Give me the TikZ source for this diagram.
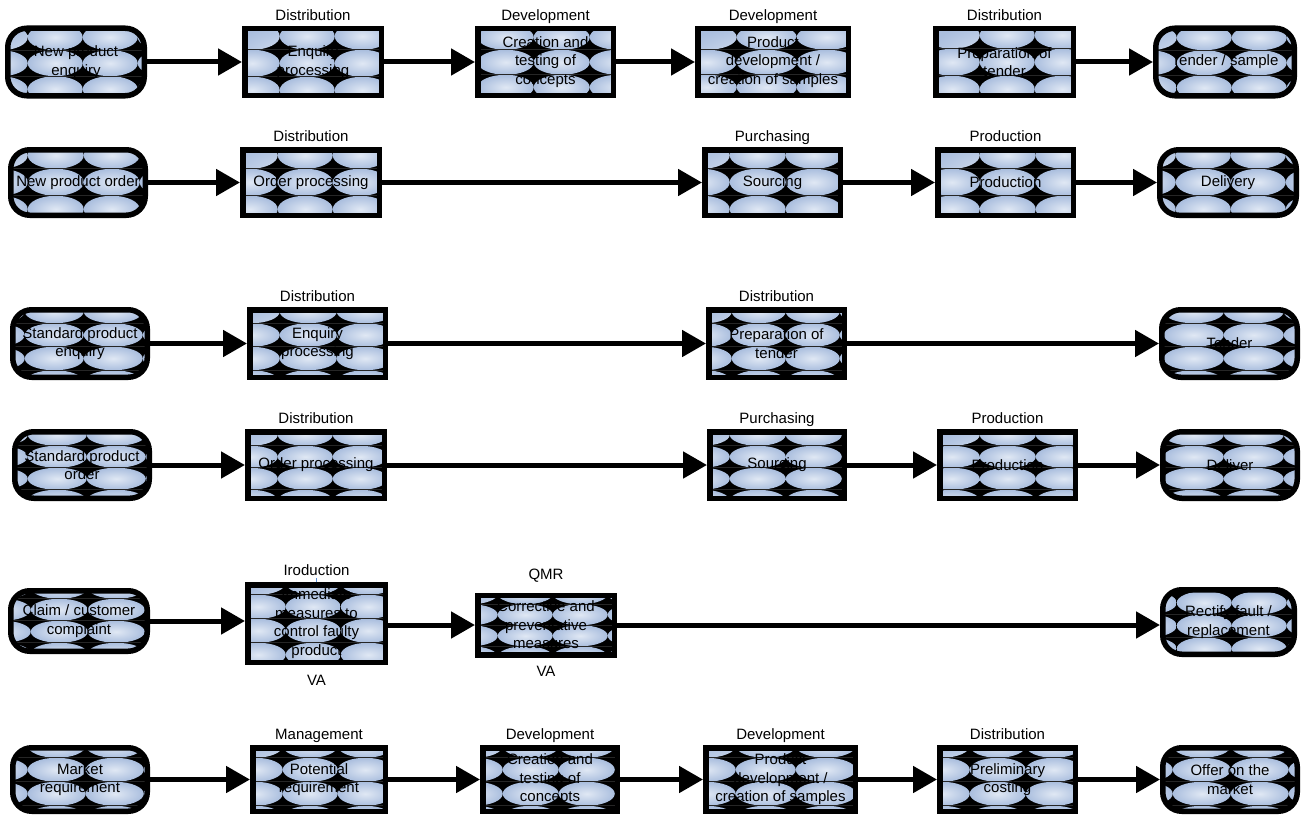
\documentclass[tikz,border=0pt]{standalone}
\usepackage{fontspec}
\setmainfont{Liberation Sans}
\usetikzlibrary{arrows.meta}

\definecolor{tileL}{HTML}{E0E8F4}
\definecolor{tileD}{HTML}{AABEDE}
\definecolor{tickblue}{HTML}{5B8FD6}

\newcommand\boxfont{\fontsize{15pt}{18.5pt}\selectfont}

% grid of shaded ellipses on black, clipped to the node outline
% #1 cell width, #2 cell height, #3/#4 offset of a cell corner from the top left
\newcommand\tilegrid[4]{%
  \pgfpointanchor{path picture bounding box}{north west}\pgfgetlastxy{\tgl}{\tgt}%
  \pgfpointanchor{path picture bounding box}{south east}\pgfgetlastxy{\tgr}{\tgb}%
  \foreach \j in {-1,...,4}{%
    \foreach \i in {-1,...,3}{%
      \pgfmathsetmacro\tcx{\tgl+#3+(\i+0.5)*#1}%
      \pgfmathsetmacro\tcy{\tgt-#4-(\j+0.5)*#2}%
      \shade[inner color=tileL, outer color=tileD]
        (\tcx pt,\tcy pt) ellipse [x radius=#1/2*1pt, y radius=#2/2*1pt];
    }%
    \pgfmathsetmacro\tly{\tgt-#4-\j*#2}%
    \draw[line width=0.6pt, black!85] (\tgl,\tly pt) -- (\tgr,\tly pt);
  }%
}

\tikzset{
  box/.style={draw=black, line width=5.5pt, fill=black, inner sep=0pt,
    align=center, font=\boxfont, text=black},
  roundbox/.style={box, rounded corners=19pt},
  tiles/.style n args={4}{path picture={\tilegrid{#1}{#2}{#3}{#4}}},
  lab/.style={font=\boxfont, inner sep=0pt, text height=11pt, text depth=0pt},
  arr/.style={line width=5pt, -{Triangle[length=24pt,width=26pt]}},
  tick/.style={tickblue, line width=1.2pt},
  every label/.style={label distance=5pt},
}

\begin{document}
\begin{tikzpicture}[x=1pt, y=-1pt]
\useasboundingbox (0,0) rectangle (1306,816);

% ---------- new product enquiry ----------
\node[roundbox, minimum width=136.5pt, minimum height=67.5pt, tiles={55}{26}{20}{22}] (a1) at (76,62) {New product\\enquiry};
\node[box, minimum width=136.5pt, minimum height=66.5pt, tiles={55}{27}{35}{21},
  label={[lab]above:Distribution}] (a2) at (313,62) {Enquiry\\processing};
\node[box, minimum width=135.5pt, minimum height=66.5pt, tiles={56}{25}{0}{21},
  label={[lab]above:Development}] (a3) at (545.5,62) {Creation and\\testing of\\concepts};
\node[box, minimum width=150.5pt, minimum height=66.5pt, tiles={60}{25}{39}{21},
  label={[lab]above:Development}] (a4) at (773,62) {Product\\development /\\creation of samples};
\node[box, minimum width=137.5pt, minimum height=66.5pt, tiles={55}{27}{44}{20},
  label={[lab]above:Distribution}] (a5) at (1004.5,62) {Preparation of\\tender};
\node[roundbox, minimum width=138.5pt, minimum height=67.5pt, tiles={55}{25}{21}{22}] (a6) at (1225,62) {Tender / sample};

\draw[arr] (a1.east) -- (a1.east -| a2.west);
\draw[arr] (a2.east) -- (a2.east -| a3.west);
\draw[arr] (a3.east) -- (a3.east -| a4.west);
\draw[arr] (a5.east) -- (a5.east -| a6.west);

% ---------- new product order ----------
\node[roundbox, minimum width=134.5pt, minimum height=65.5pt, tiles={56}{27}{17}{19}] (b1) at (78,182.5) {New product order};
\node[box, minimum width=136.5pt, minimum height=65.5pt, tiles={55}{27}{35}{19},
  label={[lab]above:Distribution}] (b2) at (311,182.5) {Order processing};
\node[box, minimum width=135.5pt, minimum height=65.5pt, tiles={56}{27}{25}{19},
  label={[lab]above:Purchasing}] (b3) at (772.5,182.5) {Sourcing};
\node[box, minimum width=135.5pt, minimum height=65.5pt, tiles={56}{27}{42}{19},
  label={[lab]above:Production}] (b4) at (1005.5,182.5) {Production};
\node[roundbox, minimum width=136.5pt, minimum height=65.5pt, tiles={55}{27}{16}{19}] (b5) at (1228,182.5) {Delivery};

\draw[arr] (b1.east) -- (b1.east -| b2.west);
\draw[arr] (b2.east) -- (b2.east -| b3.west);
\draw[arr] (b3.east) -- (b3.east -| b4.west);
\draw[arr] (b4.east) -- (b4.east -| b5.west);

% ---------- standard product enquiry ----------
\node[roundbox, minimum width=134.5pt, minimum height=67.5pt, tiles={59}{23.5}{12}{13.5}] (c1) at (80,343.5) {Standard product\\enquiry};
\node[box, minimum width=135.5pt, minimum height=67.5pt, tiles={57}{23.5}{30}{13.5},
  label={[lab]above:Distribution}] (c2) at (317.5,343.5) {Enquiry\\processing};
\node[box, minimum width=135.5pt, minimum height=67.5pt, tiles={54}{23.5}{23}{13.5},
  label={[lab]above:Distribution}] (c3) at (776.5,343.5) {Preparation of\\tender};
\node[roundbox, minimum width=135.5pt, minimum height=67.5pt, tiles={60}{23.5}{2}{13.5}] (c4) at (1229.5,343.5) {Tender};

\draw[arr] (c1.east) -- (c1.east -| c2.west);
\draw[arr] (c2.east) -- (c2.east -| c3.west);
\draw[arr] (c3.east) -- (c3.east -| c4.west);

% ---------- standard product order ----------
\node[roundbox, minimum width=134.5pt, minimum height=66.5pt, tiles={59}{22}{13}{14}] (d1) at (82,465) {Standard product\\order};
\node[box, minimum width=136.5pt, minimum height=66.5pt, tiles={55}{22}{30}{14},
  label={[lab]above:Distribution}] (d2) at (316,465) {Order processing};
\node[box, minimum width=134.5pt, minimum height=66.5pt, tiles={56}{22}{20}{14},
  label={[lab]above:Purchasing}] (d3) at (777,465) {Sourcing};
\node[box, minimum width=135.5pt, minimum height=66.5pt, tiles={56}{22}{40}{14},
  label={[lab]above:Production}] (d4) at (1007.5,465) {Production};
\node[roundbox, minimum width=134.5pt, minimum height=66.5pt, tiles={60}{22}{1}{14}] (d5) at (1230,465) {Deliver};

\draw[arr] (d1.east) -- (d1.east -| d2.west);
\draw[arr] (d2.east) -- (d2.east -| d3.west);
\draw[arr] (d3.east) -- (d3.east -| d4.west);
\draw[arr] (d4.east) -- (d4.east -| d5.west);

% ---------- claim / customer complaint ----------
\node[roundbox, minimum width=136.5pt, minimum height=60.5pt, tiles={57}{22}{20}{8}] (e1) at (79,621) {Claim / customer\\complaint};
\node[box, minimum width=137.5pt, minimum height=77.5pt, tiles={55}{24}{38}{10},
  label={[lab, label distance=6pt]above:Iroduction},
  label={[lab, label distance=9pt]below:VA}] (e2) at (316.5,623.5) {Immediate\\measures to\\control faulty\\product};
\node[box, minimum width=136.5pt, minimum height=59.5pt, tiles={55}{21}{20}{9},
  label={[lab, label distance=13pt]above:QMR},
  label={[lab, label distance=8pt]below:VA}] (e3) at (546,625) {Corrective and\\preventative\\measures};
\node[roundbox, minimum width=131.5pt, minimum height=64.5pt, tiles={55}{23}{14}{1.5}] (e4) at (1228.5,622) {Rectify fault /\\replacement};

\draw[tick] (e2.north) -- ++(0,-4);

\draw[arr] (e1.east) -- (e1.east -| e2.west);
\draw[arr] (e2.east |- e3.west) -- (e3.west);
\draw[arr] (e3.east) -- (e3.east -| e4.west);

% ---------- market requirement ----------
\node[roundbox, minimum width=134.5pt, minimum height=63.5pt, tiles={58}{24}{15}{10}] (f1) at (80,779.5) {Market\\requirement};
\node[box, minimum width=132.5pt, minimum height=63.5pt, tiles={55}{24}{30}{10},
  label={[lab]above:Management}] (f2) at (319,779.5) {Potential\\requirement};
\node[box, minimum width=134.5pt, minimum height=63.5pt, tiles={56}{24}{20}{10},
  label={[lab]above:Development}] (f3) at (550,779.5) {Creation and\\testing of\\concepts};
\node[box, minimum width=149.5pt, minimum height=63.5pt, tiles={60}{24}{30}{10},
  label={[lab]above:Development}] (f4) at (780.5,779.5) {Product\\development /\\creation of samples};
\node[box, minimum width=135.5pt, minimum height=63.5pt, tiles={56}{24}{30}{10},
  label={[lab]above:Distribution}] (f5) at (1007.5,779.5) {Preliminary\\costing};
\node[roundbox, minimum width=134.5pt, minimum height=63.5pt, tiles={58}{24}{10}{10}] (f6) at (1230,779.5) {Offer on the\\market};

\draw[arr] (f1.east) -- (f1.east -| f2.west);
\draw[arr] (f2.east) -- (f2.east -| f3.west);
\draw[arr] (f3.east) -- (f3.east -| f4.west);
\draw[arr] (f4.east) -- (f4.east -| f5.west);
\draw[arr] (f5.east) -- (f5.east -| f6.west);
\end{tikzpicture}
\end{document}
